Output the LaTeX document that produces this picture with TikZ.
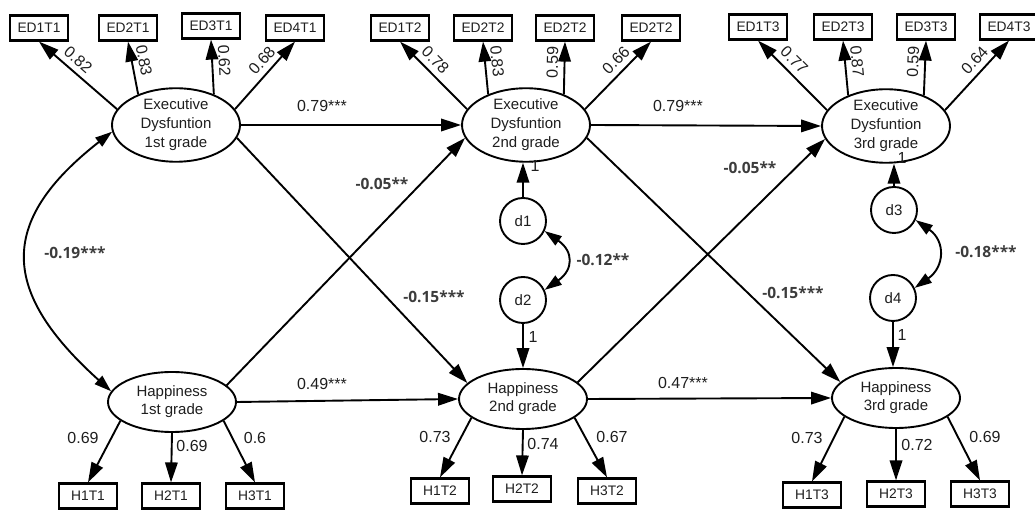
\documentclass[tikz,border=0pt]{standalone}
\usepackage{fontspec}
\setmainfont{Liberation Sans}
\newfontfamily\boldfont{Open Sans}
\usetikzlibrary{arrows.meta,calc,shapes.geometric}
\definecolor{blabcol}{HTML}{3C3C3C}
\definecolor{txt}{HTML}{1E1E1E}
\begin{document}
\begin{tikzpicture}[x=1pt,y=1pt,
  lat/.style={ellipse,draw,line width=1.9pt,minimum width=128pt,minimum height=58pt,inner sep=0pt,align=center,text=txt,font=\fontsize{15}{19}\selectfont},
  hap/.style={lat,minimum height=60pt,font=\fontsize{15}{18}\selectfont},
  obs/.style={rectangle,draw,line width=2.2pt,minimum width=58pt,minimum height=25pt,inner sep=0pt,text=txt,font=\fontsize{13.8}{16}\selectfont},
  res/.style={circle,draw,line width=1.9pt,minimum size=46pt,inner sep=0pt,text=txt,font=\fontsize{15}{18}\selectfont},
  arr/.style={line width=1.9pt,-{Triangle[length=20pt,width=12.5pt]}},
  dbl/.style={line width=1.9pt,{Triangle[length=17pt,width=11pt]}-{Triangle[length=17pt,width=11pt]}},
  lab/.style={font=\fontsize{16}{19}\selectfont,text=txt,inner sep=1pt},
  slab/.style={lab,sloped,above=4.5pt,pos=.6},
  blab/.style={font=\boldfont\bfseries\fontsize{15.5}{18}\selectfont,text=blabcol,inner sep=1pt}
]
\useasboundingbox (0,0) rectangle (1035,510);
% latent variables
\node[lat] (E1) at (176,385) {Executive\\Dysfuntion\\1st grade};
\node[lat] (E2) at (526,385) {Executive\\Dysfuntion\\2nd grade};
\node[lat] (E3) at (886,384) {Executive\\Dysfuntion\\3rd grade};
\node[hap] (H1) at (172,108) {Happiness\\1st grade};
\node[hap] (H2) at (523,111) {Happiness\\2nd grade};
\node[hap] (H3) at (896,112) {Happiness\\3rd grade};
\node[res] (d1) at (523,289) {d1};
\node[res] (d2) at (523,210) {d2};
\node[res] (d3) at (894,300) {d3};
\node[res] (d4) at (893,212) {d4};
% observed
\node[obs] (a1) at (39,482) {ED1T1};
\node[obs] (a2) at (128,482) {ED2T1};
\node[obs] (a3) at (211,484) {ED3T1};
\node[obs] (a4) at (295,482) {ED4T1};
\node[obs] (b1) at (400,482) {ED1T2};
\node[obs] (b2) at (483,482) {ED2T2};
\node[obs] (b3) at (565,482) {ED2T2};
\node[obs] (b4) at (651,482) {ED2T2};
\node[obs] (c1) at (758,483) {ED1T3};
\node[obs] (c2) at (843,483) {ED2T3};
\node[obs] (c3) at (926,483) {ED3T3};
\node[obs] (c4) at (1009,483) {ED4T3};
\node[obs] (p1) at (88,14) {H1T1};
\node[obs] (p2) at (171,14) {H2T1};
\node[obs] (p3) at (255,14) {H3T1};
\node[obs] (q1) at (440,19) {H1T2};
\node[obs] (q2) at (522,21) {H2T2};
\node[obs] (q3) at (607,19) {H3T2};
\node[obs] (r1) at (812,15) {H1T3};
\node[obs] (r2) at (896,16) {H2T3};
\node[obs] (r3) at (980,16) {H3T3};
% ED loadings
\draw[arr] (E1.165) -- node[slab] (la1) {0.82} (a1.south);
\draw[arr] (E1.141) -- node[slab] (la2) {0.83} (a2.south);
\draw[arr] (E1.39) -- node[slab] (la3) {0.62} (a3.south);
\draw[arr] (E1.15) -- node[slab] (la4) {0.68} (a4.south);
\draw[arr] (E2.165) -- node[slab] (lb1) {0.78} (b1.south);
\draw[arr] (E2.141) -- node[slab] (lb2) {0.83} (b2.south);
\draw[arr] (E2.39) -- node[slab] (lb3) {0.59} (b3.south);
\draw[arr] (E2.15) -- node[slab] (lb4) {0.66} (b4.south);
\draw[arr] (E3.165) -- node[slab] (lc1) {0.77} (c1.south);
\draw[arr] (E3.141) -- node[slab] (lc2) {0.87} (c2.south);
\draw[arr] (E3.39) -- node[slab] (lc3) {0.59} (c3.south);
\draw[arr] (E3.15) -- node[slab] (lc4) {0.64} (c4.south);
% H loadings
\draw[arr] (H1.200) -- (p1.north);
\draw[arr] (H1.270) -- (p2.north);
\draw[arr] (H1.340) -- (p3.north);
\draw[arr] (H2.200) -- (q1.north);
\draw[arr] (H2.270) -- (q2.north);
\draw[arr] (H2.340) -- (q3.north);
\draw[arr] (H3.200) -- (r1.north);
\draw[arr] (H3.270) -- (r2.north);
\draw[arr] (H3.340) -- (r3.north);
\node[lab] (lp1) at (83,72) {0.69};
\node[lab] (lp2) at (192,64) {0.69};
\node[lab] (lp3) at (255,72) {0.6};
\node[lab] (lq1) at (435,73) {0.73};
\node[lab] (lq2) at (543,66) {0.74};
\node[lab] (lq3) at (612,73) {0.67};
\node[lab] (lr1) at (807,72) {0.73};
\node[lab] (lr2) at (917,65) {0.72};
\node[lab] (lr3) at (985,73) {0.69};
% structural paths
\draw[arr] (E1.east) -- (E2.west);
\draw[arr] (E2.east) -- (E3.west);
\draw[arr] (H1.east) -- (H2.west);
\draw[arr] (H2.east) -- (H3.west);
\node[lab] (s1) at (322,404) {0.79***};
\node[lab] (s2) at (678,404) {0.79***};
\node[lab] (s3) at (322,126) {0.49***};
\node[lab] (s4) at (683,127) {0.47***};
\draw[arr] (E1.348) -- (H2.164);
\draw[arr] (H1.17) -- (E2.192);
\draw[arr] (E2.348) -- (H3.164);
\draw[arr] (H2.17) -- (E3.192);
\node[blab] (x1) at (382,326) {-0.05**};
\node[blab] (x2) at (434,213) {-0.15***};
\node[blab] (x3) at (750,342) {-0.05**};
\node[blab] (x4) at (793,217) {-0.15***};
% residuals
\draw[arr] (d1.north) -- (d1.north |- E2.south);
\draw[arr] (d2.south) -- (d2.south |- H2.north);
\draw[arr] (d3.north) -- (d3.north |- E3.south);
\draw[arr] (d4.south) -- (d4.south |- H3.north);
\node[lab] (o1) at (535,344) {1};
\node[lab] (o2) at (533,173) {1};
\node[lab] (o3) at (902,352) {1};
\node[lab] (o4) at (902,175) {1};
% covariances
\draw[dbl] (E1.186) to[out=218,in=138,looseness=1.45] (H1.170);
\draw[dbl] (d1.-25) to[out=-35,in=35,looseness=1.54] (d2.25);
\draw[dbl] (d3.-25) to[out=-35,in=35,looseness=1.38] (d4.25);
\node[blab] (k1) at (75,257) {-0.19***};
\node[blab] (k2) at (603,250) {-0.12**};
\node[blab] (k3) at (986,258) {-0.18***};
\end{tikzpicture}
\end{document}
